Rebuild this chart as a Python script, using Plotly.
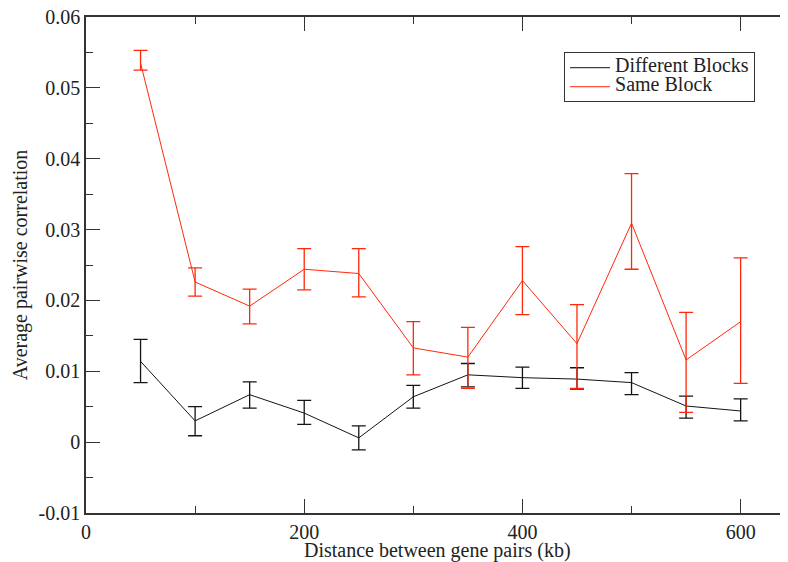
import plotly.graph_objects as go

distance = [50, 100, 150, 200, 250, 300, 350, 400, 450, 500, 550, 600]

diff_vals = [0.0114, 0.0030, 0.0067, 0.0041, 0.0006, 0.0064, 0.0095, 0.0091, 0.0089, 0.0084, 0.0051, 0.0044]
diff_upper = [0.0145, 0.0050, 0.0085, 0.0059, 0.0023, 0.0080, 0.0111, 0.0106, 0.0105, 0.0098, 0.0065, 0.0061]
diff_lower = [0.0084, 0.0009, 0.0048, 0.0025, -0.0011, 0.0048, 0.0078, 0.0076, 0.0075, 0.0067, 0.0034, 0.0030]

same_vals = [0.0535, 0.0226, 0.0192, 0.0244, 0.0238, 0.0133, 0.0120, 0.0228, 0.0139, 0.0309, 0.0116, 0.0170]
same_upper = [0.0553, 0.0246, 0.0216, 0.0273, 0.0273, 0.0170, 0.0162, 0.0276, 0.0194, 0.0379, 0.0183, 0.0260]
same_lower = [0.0525, 0.0206, 0.0167, 0.0215, 0.0205, 0.0095, 0.0076, 0.0180, 0.0076, 0.0244, 0.0042, 0.0083]

series_names = ["Different Blocks", "Same Block"]
x_ticks = [0, 200, 400, 600]
y_ticks = [-0.01, 0, 0.01, 0.02, 0.03, 0.04, 0.05, 0.06]
y_tick_labels = ["-0.01", "0", "0.01", "0.02", "0.03", "0.04", "0.05", "0.06"]
x_title = "Distance between gene pairs (kb)"
y_title = "Average pairwise correlation"

RED = "rgb(255,40,10)"
BLACK = "rgb(20,20,20)"
FONT = "Liberation Serif"
AX = "#333333"

def err(vals, up, lo):
    return dict(type="data", symmetric=False,
                array=[u - v for u, v in zip(up, vals)],
                arrayminus=[v - l for v, l in zip(vals, lo)])

def leg_name(s):
    return '<span style="font-size:20px">' + s + '</span>'

fig = go.Figure()
fig.add_trace(go.Scatter(
    x=distance, y=diff_vals, mode="lines", name=leg_name(series_names[0]),
    line=dict(color=BLACK, width=1),
    error_y=dict(**err(diff_vals, diff_upper, diff_lower), color=BLACK, thickness=1.3, width=7),
))
fig.add_trace(go.Scatter(
    x=distance, y=same_vals, mode="lines", name=leg_name(series_names[1]),
    line=dict(color=RED, width=1),
    error_y=dict(**err(same_vals, same_upper, same_lower), color=RED, thickness=1.3, width=7),
))

axis_common = dict(
    showline=True, linecolor=AX, linewidth=1.5,
    ticks="inside", ticklen=14, tickwidth=1.3, tickcolor=AX,
    showgrid=False, zeroline=False, automargin=False, ticklabeloverflow="allow",
    tickfont=dict(family=FONT, size=20, color="#222222"),
)

fig.update_xaxes(
    range=[0, 643.4], tickmode="array", tickvals=x_ticks, mirror="allticks",
    minor=dict(dtick=100, tick0=0, ticks="inside", ticklen=7, tickwidth=1.3, tickcolor=AX, showgrid=False),
    **axis_common,
)
fig.update_yaxes(
    range=[-0.01, 0.06], tickmode="array", tickvals=y_ticks, ticktext=y_tick_labels, mirror=False,
    minor=dict(dtick=0.005, tick0=0, ticks="inside", ticklen=7, tickwidth=1.3, tickcolor=AX, showgrid=False),
    title=dict(text=y_title, font=dict(family=FONT, size=20, color="#222222"), standoff=6),
    **axis_common,
)

fig.add_annotation(
    text=x_title, xref="paper", yref="paper", x=0.5, y=0,
    xanchor="center", yanchor="middle", yshift=-37, showarrow=False,
    font=dict(family=FONT, size=20, color="#222222"),
)

# The page adds an 8px body margin, so the figure is placed 8px in from the
# window's top-left corner; this size fills the rest of the 788x562 window.
fig.update_layout(
    width=780, height=554,
    margin=dict(l=78, r=0, t=9, b=49),
    plot_bgcolor="white", paper_bgcolor="white",
    font=dict(family=FONT, color="#222222"),
    legend=dict(
        x=0.681, y=0.929, xanchor="left", yanchor="top",
        bgcolor="white", bordercolor=AX, borderwidth=1,
        font=dict(family=FONT, size=10, color="#222222"),
        tracegroupgap=0, itemwidth=40,
    ),
)

fig.write_html("out.html")
